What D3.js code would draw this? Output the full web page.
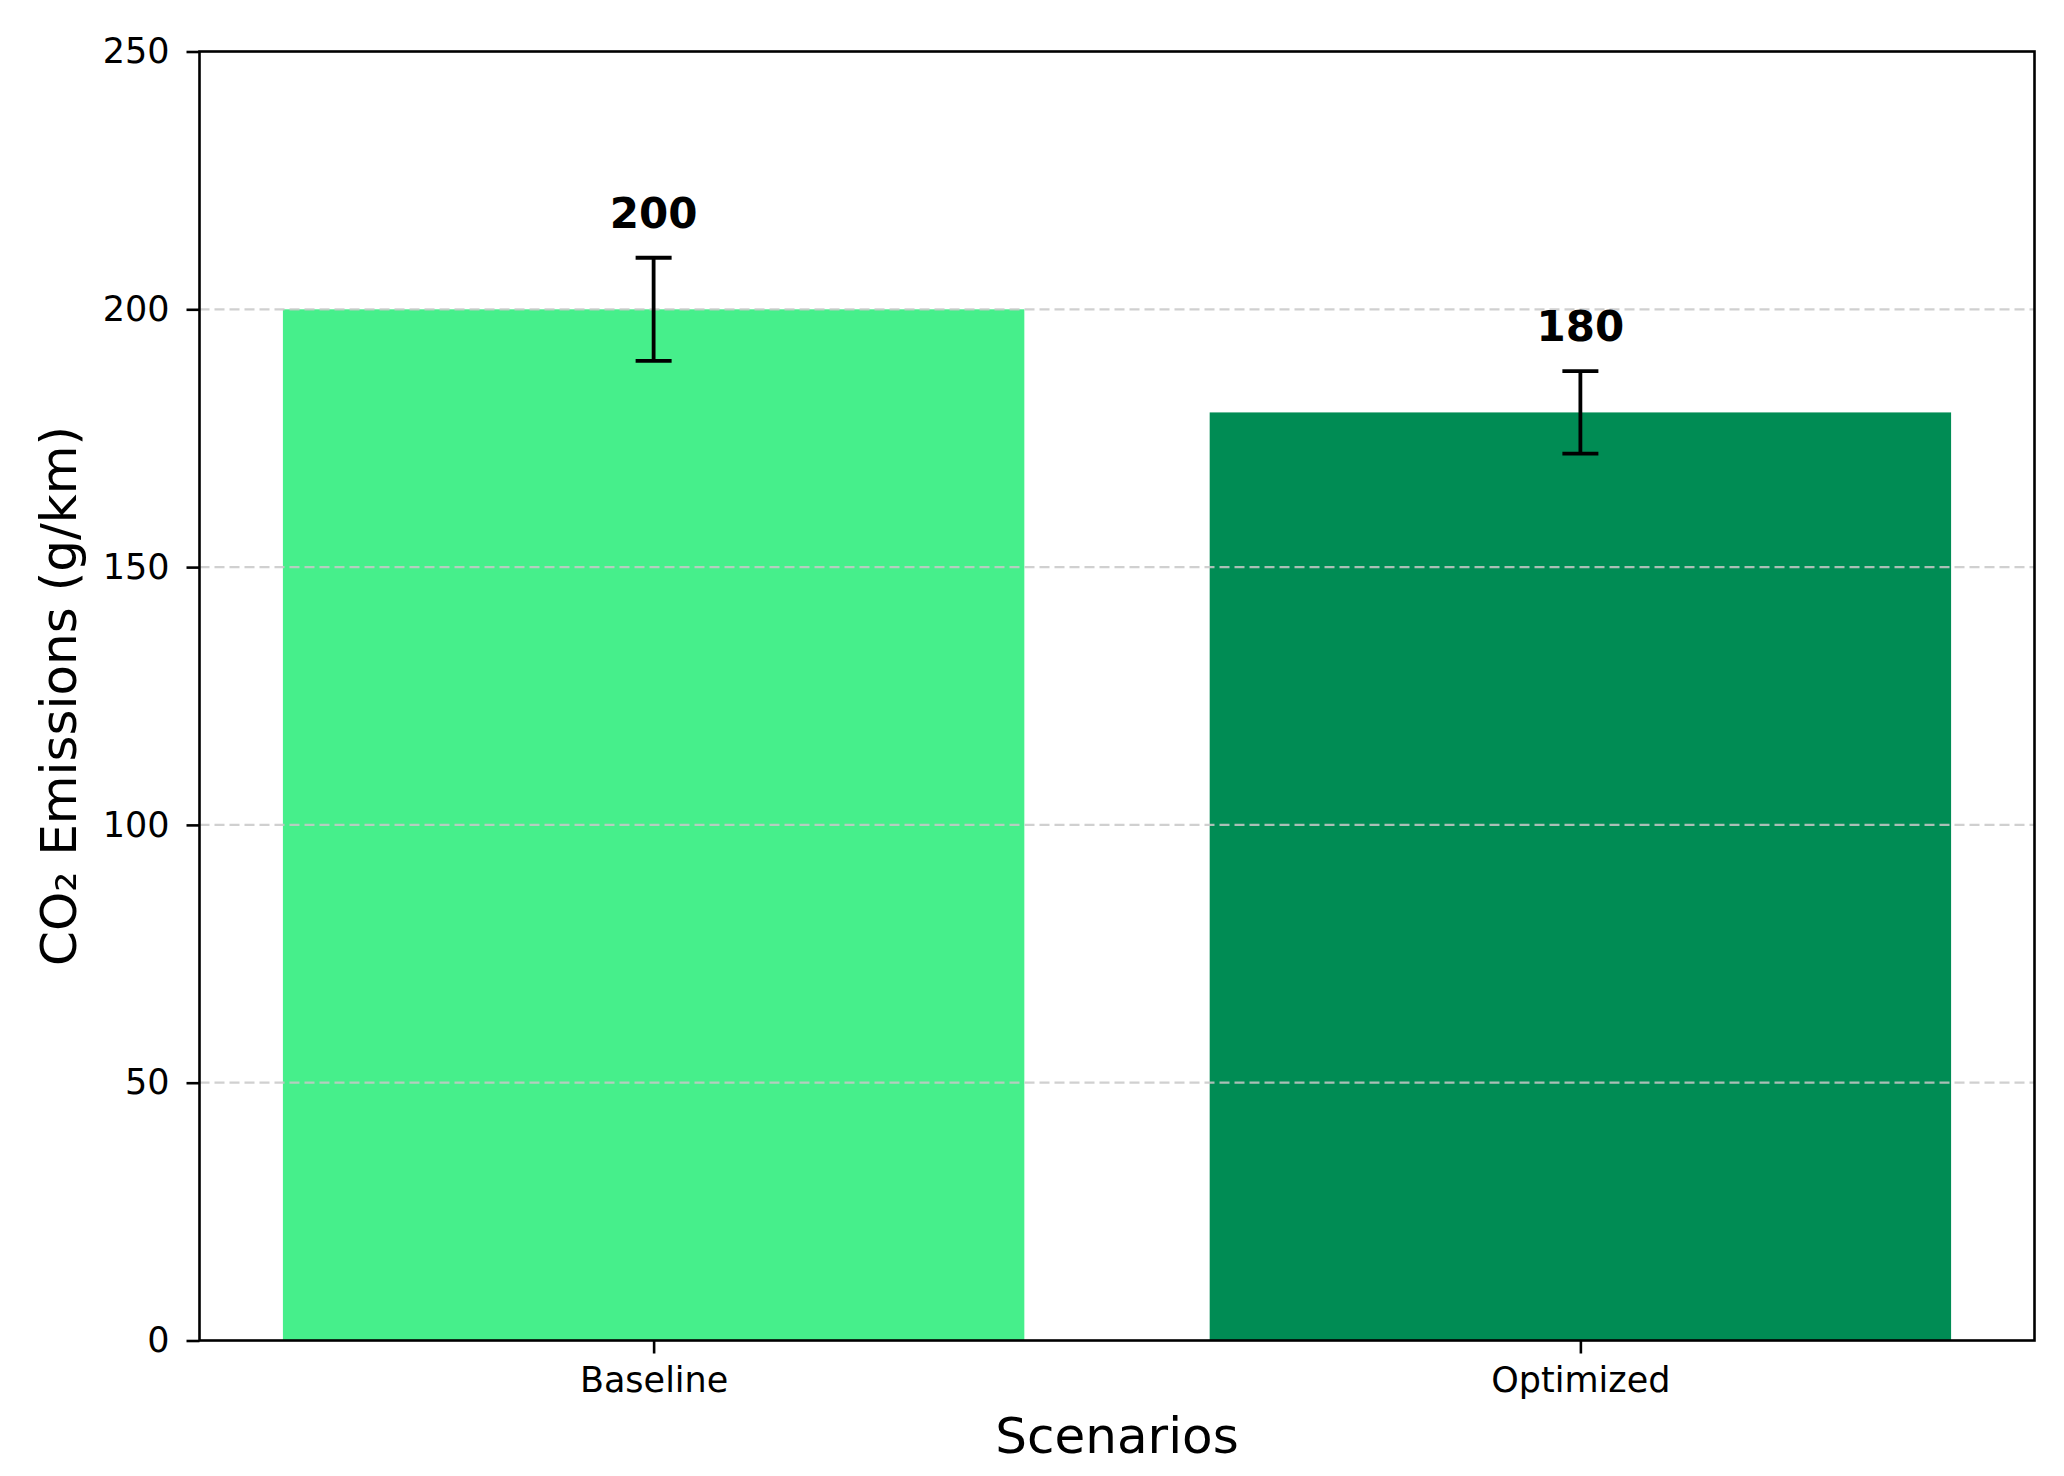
<!DOCTYPE html>
<html>
<head>
<meta charset="utf-8">
<script src="https://cdn.jsdelivr.net/npm/d3@7"></script>
<style>
  html, body { margin: 0; padding: 0; background: #fff; }
  svg { display: block; }
  text { font-family: "DejaVu Sans", sans-serif; fill: #000; }
</style>
</head>
<body>
<script>
const categories = ["Baseline", "Optimized"];
const values = [200, 180];
const errors = [10, 8];
const barColors = ["#46ef8b", "#008c54"];
const yTicks = [0, 50, 100, 150, 200, 250];
const gridTicks = [50, 100, 150, 200];
const xLabel = "Scenarios";
const yLabel = "CO\u2082 Emissions (g/km)";

const W = 2064, H = 1476;
const mLeft = 199.5, mRight = 2034.5, mTop = 51.5, mBottom = 1340.5;

const svg = d3.select("body").append("svg").attr("width", W).attr("height", H);

const x = d3.scaleLinear().domain([-0.49, categories.length - 1 + 0.49]).range([mLeft, mRight]);
const y = d3.scaleLinear().domain([0, 250]).range([mBottom, mTop]);
const barW = x(0.4) - x(-0.4);

// bars
svg.append("g").selectAll("rect").data(values).join("rect")
  .attr("x", (d, i) => x(i) - barW / 2)
  .attr("y", d => y(d))
  .attr("width", barW)
  .attr("height", d => y(0) - y(d))
  .attr("fill", (d, i) => barColors[i]);

// grid (on top)
svg.append("g").selectAll("line").data(gridTicks).join("line")
  .attr("x1", mLeft).attr("x2", mRight)
  .attr("y1", d => y(d)).attr("y2", d => y(d))
  .attr("stroke", "#c8c8c8").attr("stroke-opacity", 0.85)
  .attr("stroke-width", 2.2).attr("stroke-dasharray", "10,5");

// error bars
const eg = svg.append("g").attr("stroke", "#000").attr("stroke-width", 3.8);
values.forEach((v, i) => {
  eg.append("line").attr("x1", x(i)).attr("x2", x(i)).attr("y1", y(v - errors[i])).attr("y2", y(v + errors[i]));
  eg.append("line").attr("x1", x(i) - 18).attr("x2", x(i) + 18).attr("y1", y(v + errors[i])).attr("y2", y(v + errors[i]));
  eg.append("line").attr("x1", x(i) - 18).attr("x2", x(i) + 18).attr("y1", y(v - errors[i])).attr("y2", y(v - errors[i]));
});

// value labels
svg.append("g").selectAll("text").data(values).join("text")
  .attr("x", (d, i) => x(i))
  .attr("y", (d, i) => y(d + errors[i]) - 30)
  .attr("text-anchor", "middle")
  .attr("font-size", 42).attr("font-weight", "bold")
  .text(d => d);

// axes
const yAxis = d3.axisLeft(y).tickValues(yTicks).tickSize(13).tickPadding(17);
const gy = svg.append("g").attr("transform", `translate(${mLeft},0)`).call(yAxis);
gy.select(".domain").remove();
gy.selectAll(".tick line").attr("stroke", "#000").attr("stroke-width", 2.6);
gy.selectAll(".tick text").attr("font-size", 35).attr("font-family", "DejaVu Sans").attr("fill", "#111");

const xAxis = d3.axisBottom(x).tickValues(categories.map((c, i) => i)).tickFormat(i => categories[i]).tickSize(13).tickPadding(14);
const gx = svg.append("g").attr("transform", `translate(0,${mBottom})`).call(xAxis);
gx.select(".domain").remove();
gx.selectAll(".tick line").attr("stroke", "#000").attr("stroke-width", 2.6);
gx.selectAll(".tick text").attr("font-size", 35).attr("font-family", "DejaVu Sans").attr("fill", "#111");

// frame
svg.append("rect").attr("x", mLeft).attr("y", mTop).attr("width", mRight - mLeft).attr("height", mBottom - mTop)
  .attr("fill", "none").attr("stroke", "#000").attr("stroke-width", 2.6);

// axis titles
svg.append("text").attr("x", (mLeft + mRight) / 2).attr("y", 1453)
  .attr("text-anchor", "middle").attr("font-size", 50).text(xLabel);
svg.append("text").attr("transform", `translate(76,${(mTop + mBottom) / 2}) rotate(-90)`)
  .attr("text-anchor", "middle").attr("font-size", 50).text(yLabel);
</script>
</body>
</html>
